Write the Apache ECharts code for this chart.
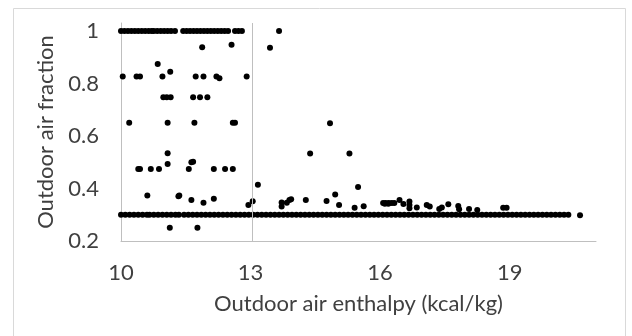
<!DOCTYPE html>
<html>
<head>
<meta charset="utf-8">
<script src="https://cdn.jsdelivr.net/npm/echarts@6/dist/echarts.min.js"></script>
<style>
    html, body { margin: 0; padding: 0; background: #fff; }
    #chart { width: 632px; height: 336px; }
</style>
</head>
<body>
<div id="chart"></div>
<script>
// x values of points sitting at fraction = 1
var fullX = [10.0, 10.08, 10.16, 10.24, 10.32, 10.4, 10.48, 10.56, 10.64, 10.71,
    10.76, 10.84, 10.92, 11.0, 11.08, 11.16, 11.25,
    11.44, 11.52, 11.6, 11.68, 11.76, 11.84, 11.92, 12.0, 12.08, 12.16, 12.24, 12.32, 12.4, 12.48,
    12.64, 12.72, 12.8, 13.66];

// x values of points sitting at the minimum fraction 0.3
var minX = [10.0, 10.1, 10.2, 10.3, 10.4, 10.5, 10.6, 10.66,
    10.76, 10.86, 10.96, 11.06, 11.16, 11.26, 11.34,
    11.46, 11.56, 11.66, 11.76, 11.86, 11.96, 12.06, 12.16, 12.26, 12.36, 12.46, 12.56, 12.66, 12.76, 12.86, 12.96,
    13.06, 13.16, 13.26, 13.36, 13.46, 13.56, 13.66, 13.76, 13.86, 13.96, 14.06, 14.16, 14.26, 14.36, 14.46, 14.56,
    14.66, 14.76, 14.86, 14.96, 15.06, 15.16, 15.26, 15.36, 15.46, 15.56, 15.66, 15.76, 15.86, 15.96, 16.06, 16.16,
    16.26, 16.36, 16.46, 16.56, 16.66, 16.76, 16.86, 16.96, 17.06, 17.16, 17.26, 17.36, 17.46, 17.56, 17.66, 17.76,
    17.86, 17.96, 18.06, 18.16, 18.26, 18.36, 18.46, 18.56, 18.66, 18.76, 18.86, 18.96, 19.06, 19.16, 19.26, 19.36,
    19.46, 19.56, 19.66, 19.76, 19.86, 19.96, 20.06, 20.16, 20.26, 20.36];
var minFraction = 0.3;

// remaining scattered points [enthalpy, fraction]
var scatterPts = [
    [10.85, 0.874], [11.14, 0.844], [11.88, 0.938], [12.56, 0.947], [13.45, 0.936],
    [10.04, 0.826], [10.36, 0.826], [10.44, 0.826], [10.96, 0.826], [11.73, 0.826], [11.91, 0.826],
    [12.21, 0.826], [12.28, 0.82], [12.91, 0.826],
    [10.98, 0.747], [11.06, 0.747], [11.15, 0.747], [11.67, 0.747], [11.83, 0.747], [12.0, 0.747],
    [10.19, 0.65], [11.08, 0.65], [11.70, 0.65], [12.59, 0.65], [12.64, 0.65], [14.84, 0.648],
    [11.08, 0.534], [14.38, 0.533], [15.29, 0.533],
    [11.08, 0.493], [11.63, 0.50], [11.67, 0.502],
    [10.40, 0.474], [10.44, 0.474], [10.69, 0.474], [10.88, 0.474], [11.57, 0.474], [12.15, 0.474],
    [12.41, 0.474], [12.59, 0.474],
    [13.17, 0.414], [15.49, 0.406], [14.96, 0.377],
    [10.61, 0.373], [11.33, 0.37], [11.35, 0.373], [11.63, 0.356], [11.91, 0.346], [12.15, 0.361],
    [12.95, 0.337], [13.05, 0.351],
    [13.72, 0.347], [13.72, 0.331], [13.84, 0.346], [13.90, 0.356], [13.94, 0.359], [14.28, 0.356],
    [14.76, 0.352], [15.05, 0.337], [15.41, 0.327], [15.62, 0.332], [16.11, 0.342], [16.19, 0.342],
    [16.07, 0.345], [16.13, 0.345], [16.2, 0.345], [16.27, 0.345], [16.33, 0.345], [16.45, 0.356],
    [16.54, 0.341], [16.68, 0.35], [16.68, 0.337], [16.68, 0.325], [16.85, 0.328], [17.08, 0.337],
    [17.15, 0.331], [17.37, 0.322], [17.43, 0.328], [17.58, 0.34], [17.81, 0.333], [17.83, 0.321],
    [18.06, 0.322], [18.25, 0.318], [18.85, 0.327], [18.93, 0.327], [20.63, 0.298],
    [11.13, 0.25], [11.77, 0.25]
];

// x tick range
var xMin = 10, xMax = 21, xStep = 3;
// y tick range
var yMin = 0.2, yMax = 1.03, yStep = 0.2;
// divider line
var splitX = 13.05;

var allPts = [];
fullX.forEach(function (x) { allPts.push([x, 1]); });
minX.forEach(function (x) { allPts.push([x, minFraction]); });
scatterPts.forEach(function (p) { allPts.push(p); });

var font = 'Lato, "Open Sans", sans-serif';
var gray = '#bfbfbf';
var textColor = '#404040';

var myChart = echarts.init(document.getElementById('chart'));
myChart.setOption({
    animation: false,
    graphic: [{
        type: 'rect',
        shape: { x: 13.5, y: 8.5, width: 612, height: 340 },
        style: { fill: 'none', stroke: '#d9d9d9', lineWidth: 1 },
        silent: true
    }],
    grid: { left: 121, right: 36, top: 23, bottom: 95 },
    xAxis: {
        type: 'value',
        min: xMin, max: xMax, interval: xStep,
        name: 'Outdoor air enthalpy (kcal/kg)',
        nameLocation: 'middle',
        nameGap: 52,
        nameTextStyle: { fontFamily: font, fontSize: 22, color: textColor },
        axisLine: { show: true, lineStyle: { color: gray } },
        axisTick: { show: false },
        splitLine: { show: false },
        axisLabel: { fontFamily: font, fontSize: 22, color: textColor, margin: 21, showMaxLabel: false }
    },
    yAxis: {
        type: 'value',
        min: yMin, max: yMax, interval: yStep,
        name: 'Outdoor air fraction',
        nameLocation: 'middle',
        nameGap: 60,
        nameTextStyle: { fontFamily: font, fontSize: 22, color: textColor },
        axisLine: { show: true, lineStyle: { color: gray } },
        axisTick: { show: false },
        splitLine: { show: false },
        axisLabel: { fontFamily: font, fontSize: 22, color: textColor, margin: 22, showMaxLabel: false }
    },
    series: [{
        type: 'scatter',
        data: allPts,
        symbolSize: 6,
        itemStyle: { color: '#000', opacity: 1 },
        markLine: {
            silent: true,
            symbol: 'none',
            label: { show: false },
            lineStyle: { color: gray, width: 1, type: 'solid' },
            data: [{ xAxis: splitX }]
        }
    }]
});
</script>
</body>
</html>
